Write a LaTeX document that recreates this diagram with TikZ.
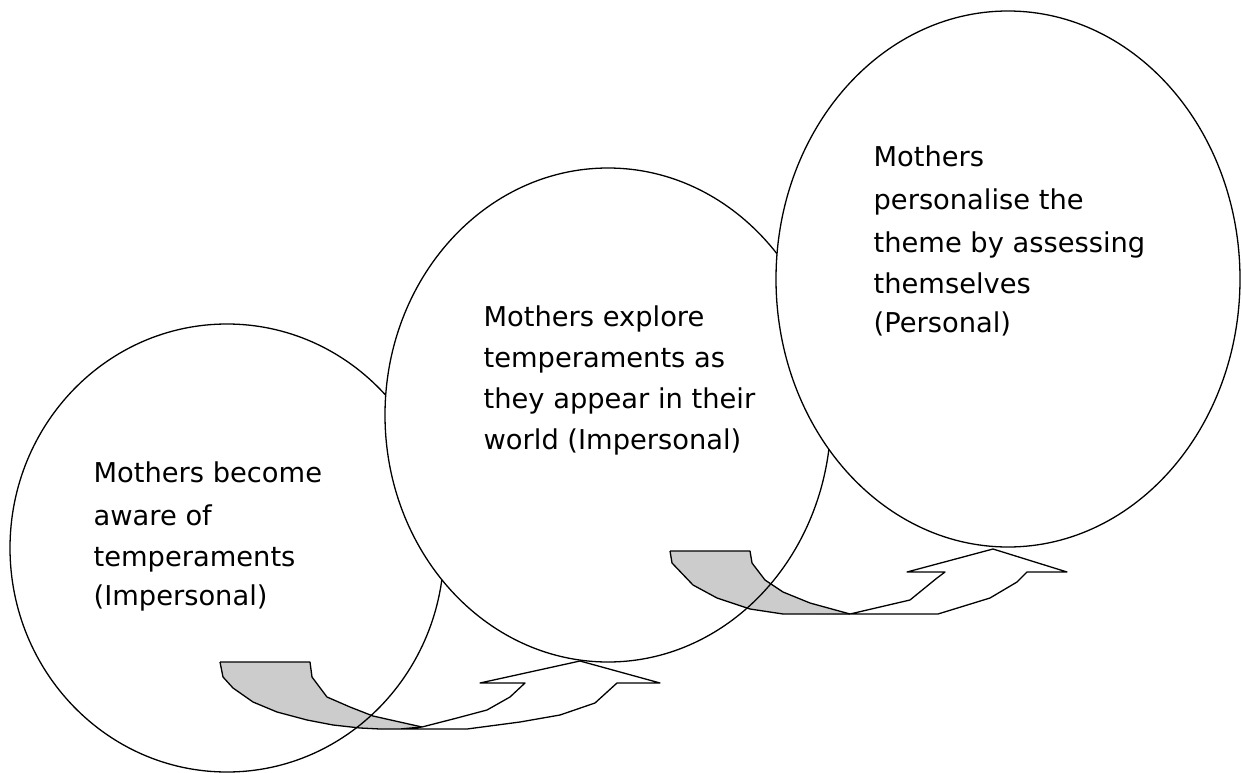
\documentclass[tikz,border=0pt]{standalone}
\usepackage{fontspec}
\setmainfont{DejaVu Sans}
\definecolor{arrowgray}{RGB}{204,204,204}
\begin{document}
\begin{tikzpicture}[x=1pt,y=-1pt,line width=1.3pt,line join=round,
  txt/.style={anchor=base west,inner sep=0pt,font=\fontsize{27.3}{41}\selectfont},
  shadepart/.style={fill=arrowgray,draw=none},
  bubble/.style={draw=black,fill=white}]
\useasboundingbox (0,0) rectangle (1242,773);
% left ellipse with the shaded tail of arrow 1
\fill[white] (227,548) ellipse [x radius=217pt, y radius=224pt];
\path[shadepart] (220,662) -- (310,662) -- (312,677) -- (327,697) -- (350,707) -- (373,716) -- (422,727) -- (422,729) -- (380,729) -- (360,728) -- (333,725) -- (307,720) -- (277,712) -- (253,702) -- (233,688) -- (223,677) -- cycle;
\draw (227,548) ellipse [x radius=217pt, y radius=224pt];
% middle ellipse with the shaded tail of arrow 2
\fill[white] (608,415) ellipse [x radius=223pt, y radius=247pt];
\path[shadepart] (670,551) -- (750,551) -- (752,563) -- (765,580) -- (783,592) -- (810,603) -- (850,614) -- (850,615) -- (783,614) -- (750,609) -- (717,598) -- (693,585) -- (672,563) -- cycle;
\draw (608,415) ellipse [x radius=223pt, y radius=247pt];
% right ellipse
\draw[bubble] (1008,279) ellipse [x radius=232pt, y radius=268pt];
% arrow 1 outline
\draw (220,662) -- (310,662) -- (312,677) -- (327,697) -- (350,707) -- (373,716) -- (422,727);
\draw[fill=white] (380,729) -- (467,729) -- (520,722) -- (560,715) -- (595,703) -- (617,683) -- (660,683) -- (580,661) -- (480,683) -- (525,683) -- (510,697) -- (487,710) -- (457,718) -- (422,727) -- (400,729);
\draw (220,662) -- (223,677) -- (233,688) -- (253,702) -- (277,712) -- (307,720) -- (333,725) -- (360,728) -- (380,729);
% arrow 2 outline
\draw (670,551) -- (750,551) -- (752,563) -- (765,580) -- (783,592) -- (810,603) -- (850,614);
\draw[fill=white] (783,614) -- (938,614) -- (990,598) -- (1017,582) -- (1027,572) -- (1067,572) -- (993,549) -- (907,572) -- (945,572) -- (937,578) -- (910,600) -- (850,614);
\draw (670,551) -- (672,563) -- (693,585) -- (717,598) -- (750,609) -- (783,614);
% texts
\node[txt] (a1) at (93,482) {Mothers become};
\node[txt] (a2) at (93,525) {aware of};
\node[txt] (a3) at (93,566) {temperaments};
\node[txt] (a4) at (93,605) {(Impersonal)};
\node[txt] (b1) at (483,326) {Mothers explore};
\node[txt] (b2) at (483,367) {temperaments as};
\node[txt] (b3) at (483,408) {they appear in their};
\node[txt] (b4) at (483,449) {world (Impersonal)};
\node[txt] (c1) at (873,167) {Mothers};
\node[txt] (c2) at (873,209) {personalise the};
\node[txt] (c3) at (873,252) {theme by assessing};
\node[txt] (c4) at (873,293) {themselves};
\node[txt] (c5) at (873,332) {(Personal)};
\end{tikzpicture}
\end{document}
